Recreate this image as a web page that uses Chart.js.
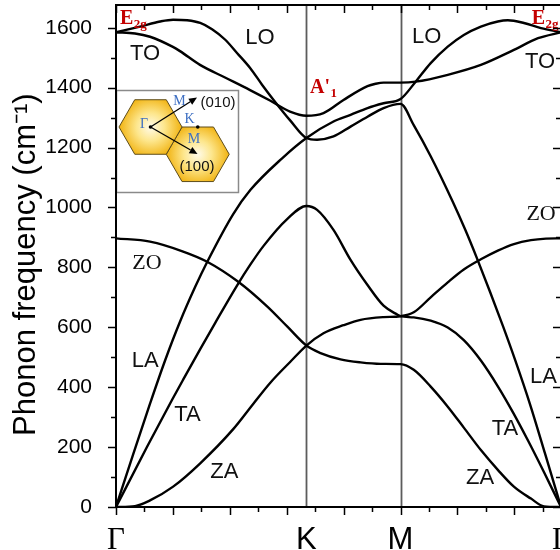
<!DOCTYPE html>
<html>
<head>
<meta charset="utf-8">
<script src="https://cdn.jsdelivr.net/npm/chart.js@4/dist/chart.umd.min.js"></script>
<style>
  html, body { margin: 0; padding: 0; background: #fff; overflow: hidden; width: 560px; height: 550px; }
  #wrap { width: 600px; height: 550px; }
</style>
</head>
<body>
<div id="wrap"><canvas id="c" width="600" height="550"></canvas></div>
<script>
// Graphene phonon dispersion along Γ–K–M–Γ.
// Wave-vector positions of the high-symmetry points.
const Q_K = 1.673, Q_M = 2.5, Q_G = 3.91;
const POINT_LABELS = ['Γ', 'K', 'M', 'Γ'];
const FREQ_MAX = 1676;
const FREQ_TICK_STEP = 200;

// Branches as continuous lines [q, frequency (cm^-1)].
const ZA_ZO = [[0,0],[0.167,3],[0.299,22],[0.502,68],[0.740,146],[1.030,260],[1.207,345],[1.356,415],[1.532,485],[1.673,539],
  [1.823,580],[1.999,607],[2.149,625],[2.351,634],[2.5,637],
  [2.616,650],[2.765,700],[2.915,750],[3.056,793],[3.206,827],[3.355,856],[3.496,878],[3.646,891],[3.778,896],[3.91,897]];
const TA = [[0,0],[0.273,201],[0.493,358],[0.590,425],[0.740,527],[0.872,615],[1.066,741],[1.180,809],[1.295,871],[1.506,962],[1.673,1005],
  [1.767,992],[1.911,925],[2.061,825],[2.210,741],[2.351,672],[2.474,642],[2.5,637],
  [2.616,633],[2.765,622],[2.915,599],[3.056,557],[3.206,489],[3.355,403],[3.488,316],[3.620,222],[3.761,116],[3.91,0]];
const ZO_ZA = [[0,897],[0.299,886],[0.590,853],[0.801,819],[1.074,752],[1.330,669],[1.506,602],[1.673,539],
  [1.797,514],[1.973,493],[2.149,483],[2.325,478],[2.5,477],
  [2.616,458],[2.765,402],[2.915,335],[3.056,265],[3.206,190],[3.355,124],[3.496,68],[3.646,28],[3.761,2],[3.91,0]];
const LA_LO = [[0,0],[0.150,175],[0.299,345],[0.432,490],[0.564,620],[0.696,735],[0.801,818],[1.030,978],[1.180,1058],[1.462,1165],[1.673,1232],
  [1.911,1287],[2.061,1309],[2.210,1332],[2.351,1348],[2.5,1362],
  [2.633,1420],[2.765,1482],[2.915,1537],[3.056,1576],[3.206,1604],[3.355,1621],[3.443,1625],[3.584,1616],[3.734,1599],[3.91,1585]];
const LO_LA = [[0,1585],[0.211,1604],[0.387,1621],[0.502,1627],[0.625,1625],[0.740,1616],[0.844,1595],[0.960,1560],[1.063,1516],[1.180,1465],[1.283,1410],[1.383,1360],[1.532,1290],[1.673,1232],
  [1.767,1226],[1.911,1237],[2.061,1270],[2.210,1303],[2.351,1332],[2.5,1346],
  [2.616,1275],[2.765,1171],[2.959,1019],[3.067,927],[3.172,830],[3.287,718],[3.401,603],[3.506,492],[3.638,343],[3.770,178],[3.91,0]];
const TO = [[0,1585],[0.167,1581],[0.299,1570],[0.500,1536],[0.562,1522],[0.738,1476],[0.958,1434],[1.178,1392],[1.353,1357],[1.529,1320],[1.673,1306],
  [1.823,1315],[1.999,1359],[2.210,1405],[2.281,1413],[2.351,1417],[2.5,1417],
  [2.633,1420],[2.915,1443],[3.206,1476],[3.496,1526],[3.708,1565],[3.91,1585]];
const BRANCHES = [ZA_ZO, TA, ZO_ZA, LA_LO, LO_LA, TO];

// Mode names placed at (q, frequency).
const MODE_NAMES = ['TO', 'LO', 'LO', 'TO', 'ZO', 'ZO', 'LA', 'TA', 'ZA', 'ZA', 'TA', 'LA'];
const MODE_Q     = [0.255, 1.265, 2.730, 3.726, 0.272, 3.735, 0.257, 0.628, 0.952, 3.199, 3.418, 3.755];
const MODE_W     = [1513, 1566, 1571, 1487, 814, 977, 488, 307, 118, 98, 260, 435];

const SANS = '"Liberation Sans", Arial, Helvetica, sans-serif';
const SERIF = '"Liberation Serif", "Times New Roman", Times, serif';

function toXY(points) { return points.map(([q, w]) => ({ x: q, y: w })); }

// K and M guide lines
const guides = {
  id: 'guides',
  beforeDatasetsDraw(chart) {
    const { ctx, chartArea: a, scales: { x } } = chart;
    ctx.save();
    ctx.strokeStyle = '#5c5c5c';
    ctx.lineWidth = 1.8;
    [Q_K, Q_M].forEach(q => {
      const px = Math.round(x.getPixelForValue(q)) + 0.5;
      ctx.beginPath(); ctx.moveTo(px, a.top); ctx.lineTo(px, a.bottom); ctx.stroke();
    });
    ctx.restore();
  }
};

// Mode names and the Raman-active labels
const annotations = {
  id: 'annotations',
  afterDatasetsDraw(chart) {
    const { ctx, scales: { x, y } } = chart;
    ctx.save();
    ctx.fillStyle = '#111';
    ctx.textAlign = 'center';
    ctx.textBaseline = 'middle';
    MODE_NAMES.forEach((t, i) => {
      ctx.font = (t === 'ZO' ? '22px ' + SERIF : '22px ' + SANS);
      ctx.fillText(t, x.getPixelForValue(MODE_Q[i]), y.getPixelForValue(MODE_W[i]));
    });
    const symbol = (main, sub, q, w) => {
      const px = x.getPixelForValue(q), py = y.getPixelForValue(w);
      ctx.fillStyle = '#c40000';
      ctx.textAlign = 'left';
      ctx.textBaseline = 'alphabetic';
      ctx.font = 'bold 20px ' + SERIF;
      ctx.fillText(main, px, py);
      const mw = ctx.measureText(main).width;
      ctx.font = 'bold 13px ' + SERIF;
      ctx.fillText(sub, px + mw + 0.5, py + 4);
    };
    symbol('E', '2g', 0.035, 1614);
    symbol('E', '2g', 3.652, 1614);
    symbol("A'", '1', 1.705, 1382);
    ctx.restore();
  }
};

// Brillouin-zone sketch in the upper-left corner
const inset = {
  id: 'inset',
  afterDraw(chart) {
    const { ctx, chartArea: a } = chart;
    const x0 = a.left, y0 = 90, x1 = 238, y1 = 192;
    ctx.save();
    ctx.fillStyle = '#fff';
    ctx.fillRect(x0, y0, x1 - x0, y1 - y0);
    ctx.strokeStyle = '#8a8a8a';
    ctx.lineWidth = 1.5;
    ctx.strokeRect(x0 + 0.5, y0 + 0.5, x1 - x0, y1 - y0);

    const r = 31.5;
    const hex = (cx, cy) => {
      ctx.beginPath();
      for (let k = 0; k < 6; k++) {
        const t = k * Math.PI / 3;
        const px = cx + r * Math.cos(t), py = cy + r * Math.sin(t);
        k ? ctx.lineTo(px, py) : ctx.moveTo(px, py);
      }
      ctx.closePath();
      const g = ctx.createRadialGradient(cx, cy, 0, cx, cy, r);
      g.addColorStop(0, '#fffbea');
      g.addColorStop(0.45, '#fde68c');
      g.addColorStop(1, '#f1b20f');
      ctx.fillStyle = g;
      ctx.fill();
      ctx.strokeStyle = '#5e4d1c';
      ctx.lineWidth = 1;
      ctx.stroke();
    };
    const gx = 150.5, gy = 127;
    hex(gx + 1.5 * r, gy + Math.sqrt(3) / 2 * r);
    hex(gx, gy);

    const arrow = (xa, ya, xb, yb) => {
      const ang = Math.atan2(yb - ya, xb - xa), L = 8, W = 3.6;
      const bx = xb - L * Math.cos(ang), by = yb - L * Math.sin(ang);
      ctx.strokeStyle = '#000'; ctx.fillStyle = '#000'; ctx.lineWidth = 1.3;
      ctx.beginPath(); ctx.moveTo(xa, ya); ctx.lineTo(bx, by); ctx.stroke();
      ctx.beginPath();
      ctx.moveTo(xb, yb);
      ctx.lineTo(bx - W * Math.sin(ang), by + W * Math.cos(ang));
      ctx.lineTo(bx + W * Math.sin(ang), by - W * Math.cos(ang));
      ctx.closePath(); ctx.fill();
    };
    arrow(gx, gy, 197, 97.5);
    arrow(gx, gy, 197.5, 154);
    ctx.fillStyle = '#000';
    [[gx, gy], [gx + 1.5 * r, gy]].forEach(([px, py]) => {
      ctx.beginPath(); ctx.arc(px, py, 1.8, 0, 2 * Math.PI); ctx.fill();
    });

    ctx.textAlign = 'center';
    ctx.textBaseline = 'middle';
    ctx.fillStyle = '#3e6fc2';
    ctx.font = '14px ' + SERIF;
    ctx.fillText('Γ', 144, 124);
    ctx.fillText('M', 179.5, 101);
    ctx.fillText('K', 189.5, 119);
    ctx.fillText('M', 194, 139);
    ctx.fillStyle = '#111';
    ctx.font = '15px ' + SANS;
    ctx.fillText('(010)', 218, 102.5);
    ctx.fillText('(100)', 197, 167);
    ctx.restore();
  }
};

// Box frame with major/minor tick marks on all sides
const frame = {
  id: 'frame',
  afterDraw(chart) {
    const { ctx, chartArea: a, scales: { x, y } } = chart;
    ctx.save();
    ctx.strokeStyle = '#000';
    ctx.lineWidth = 2;
    ctx.beginPath();
    ctx.moveTo(a.left, a.top); ctx.lineTo(a.right, a.top);
    ctx.moveTo(a.right, a.top); ctx.lineTo(a.right, a.bottom);
    ctx.moveTo(a.left, a.top - 1); ctx.lineTo(a.left, a.bottom + 1);
    ctx.moveTo(a.left - 1, a.bottom); ctx.lineTo(a.right, a.bottom);
    ctx.stroke();

    ctx.lineWidth = 1.5;
    ctx.beginPath();
    for (let k = 0; k * 0.25 <= Q_G + 1e-9; k++) {
      const px = Math.round(x.getPixelForValue(k * 0.25)) + 0.5;
      const len = k % 2 === 0 ? 8 : 5;
      ctx.moveTo(px, a.bottom); ctx.lineTo(px, a.bottom + len);
      ctx.moveTo(px, a.top); ctx.lineTo(px, a.top + len);
    }
    for (let v = 0; v <= 1600; v += 100) {
      const py = Math.round(y.getPixelForValue(v)) + 0.5;
      const len = v % 200 === 0 ? 8 : 5;
      ctx.moveTo(a.left - len, py); ctx.lineTo(a.left, py);
      ctx.moveTo(a.right - len, py); ctx.lineTo(a.right, py);
    }
    ctx.stroke();
    ctx.restore();
  }
};

new Chart(document.getElementById('c'), {
  type: 'line',
  data: {
    datasets: BRANCHES.map(b => ({
      data: toXY(b),
      borderColor: '#000',
      borderWidth: 2.4,
      pointRadius: 0,
      fill: false,
      cubicInterpolationMode: 'monotone'
    }))
  },
  options: {
    responsive: false,
    animation: false,
    devicePixelRatio: 1,
    layout: { padding: { left: 0, top: 5, right: 39, bottom: 0 }, autoPadding: false },
    plugins: { legend: { display: false }, tooltip: { enabled: false } },
    scales: {
      x: {
        type: 'linear',
        min: 0,
        max: Q_G,
        grid: { display: false },
        border: { display: false },
        afterBuildTicks(s) { s.ticks = [0, Q_K, Q_M, Q_G].map(v => ({ value: v })); },
        ticks: {
          autoSkip: false,
          maxRotation: 0,
          padding: 7,
          color: '#000',
          callback: (v, i) => POINT_LABELS[i],
          font: ctx => ({ family: POINT_LABELS[ctx.index] === 'Γ' ? SERIF : SANS, size: 31 })
        },
        afterFit(s) { s.height = 43; s.paddingLeft = 0; s.paddingRight = 0; }
      },
      y: {
        min: 0,
        max: FREQ_MAX,
        grid: { display: false },
        border: { display: false },
        ticks: {
          stepSize: FREQ_TICK_STEP,
          includeBounds: false,
          padding: 16,
          color: '#000',
          font: { family: SANS, size: 21 },
          callback: v => String(v)
        },
        title: {
          display: true,
          text: 'Phonon frequency (cm⁻¹)  ',
          color: '#000',
          font: { family: SANS, size: 31 },
          padding: { top: 8, bottom: 0 }
        },
        afterFit(s) { s.width = 116; s.paddingTop = 0; s.paddingBottom = 0; }
      }
    }
  },
  plugins: [guides, annotations, inset, frame]
});
</script>
</body>
</html>
